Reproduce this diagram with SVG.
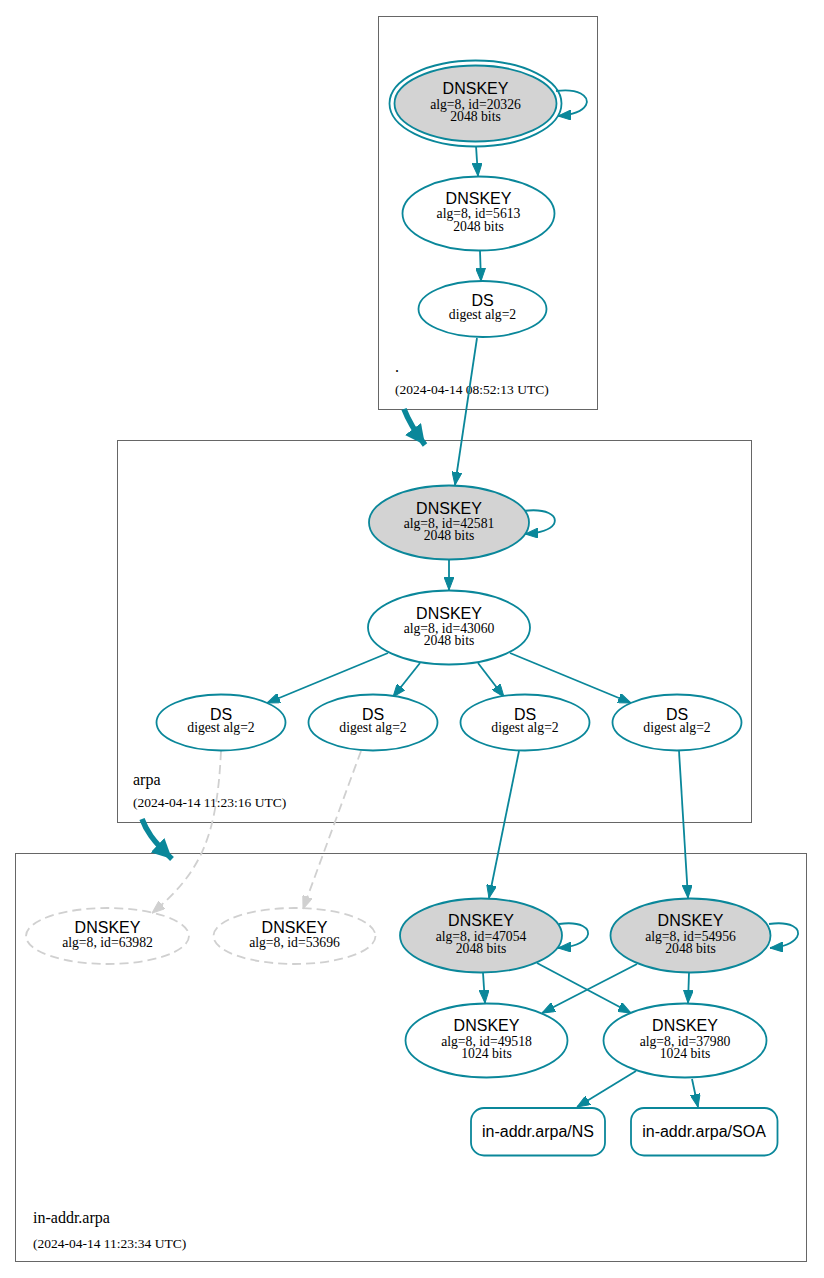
<svg xmlns="http://www.w3.org/2000/svg" width="824" height="1278" viewBox="0 0 824 1278">
<style>
.cl{fill:none;stroke:#666;stroke-width:1}
.n{fill:#fff;stroke:#0a879a;stroke-width:1.8}
.g{fill:#d3d3d3;stroke:#0a879a;stroke-width:1.8}
.d{fill:none;stroke:#d0d0d0;stroke-width:1.8;stroke-dasharray:9,5}
.t{font-family:"Liberation Sans",Arial,sans-serif;font-size:16px;fill:#000;text-anchor:middle}
.s{font-family:"Liberation Serif","Times New Roman",serif;font-size:13.7px;fill:#000;text-anchor:middle}
.lb{font-family:"Liberation Serif","Times New Roman",serif;font-size:16px;fill:#000}
.dt{font-family:"Liberation Serif","Times New Roman",serif;font-size:13.5px;fill:#000}
.e{fill:none;stroke:#0a879a;stroke-width:1.8;marker-end:url(#a)}
.ed{fill:none;stroke:#d0d0d0;stroke-width:1.8;stroke-dasharray:9,5;marker-end:url(#ag)}
.et{fill:none;stroke:#0a879a;stroke-width:5.5;marker-end:url(#at)}
</style>
<defs>
<marker id="a" viewBox="0 0 13 10" refX="13" refY="5" markerWidth="13" markerHeight="10" markerUnits="userSpaceOnUse" orient="auto"><path d="M0,0 L13,5 L0,10 z" fill="#0a879a" stroke="#0a879a" stroke-width="1"/></marker>
<marker id="ag" viewBox="0 0 13 10" refX="13" refY="5" markerWidth="13" markerHeight="10" markerUnits="userSpaceOnUse" orient="auto"><path d="M0,0 L13,5 L0,10 z" fill="#d0d0d0" stroke="#d0d0d0" stroke-width="1"/></marker>
<marker id="at" viewBox="0 0 20 20" refX="20" refY="10" markerWidth="20" markerHeight="20" markerUnits="userSpaceOnUse" orient="auto"><path d="M0,0 L20,10 L0,20 z" fill="#0a879a"/></marker>
</defs>

<g id="cluster-root">
<rect class="cl" x="378.5" y="16.5" width="219" height="393"/>
<text class="lb" x="395" y="372">.</text>
<text class="dt" x="395" y="394">(2024-04-14 08:52:13 UTC)</text>
</g>
<g id="cluster-arpa">
<rect class="cl" x="117.5" y="440.5" width="634" height="382"/>
<text class="lb" x="133" y="785">arpa</text>
<text class="dt" x="133" y="807">(2024-04-14 11:23:16 UTC)</text>
</g>
<g id="cluster-in-addr">
<rect class="cl" x="15.5" y="853.5" width="791" height="408"/>
<text class="lb" x="33" y="1223">in-addr.arpa</text>
<text class="dt" x="33" y="1248">(2024-04-14 11:23:34 UTC)</text>
</g>

<g id="connectors">
<path class="e" d="M556,91 C578,88 590,96 586,105 C582,112 572,115 558,116"/>
<path class="e" d="M476,146 L478,176"/>
<path class="e" d="M480,251 L481,281"/>
<path class="e" d="M477,338 L455,485"/>
<path class="et" d="M404,409 Q410,425 425,445"/>
<path class="e" d="M523,511 C546,508 558,515 554,524 C550,530 540,533 525,534"/>
<path class="e" d="M449,560 L449,590"/>
<path class="e" d="M388,653 L267,703"/>
<path class="e" d="M420,663 L393,697"/>
<path class="e" d="M478,663 L504,697"/>
<path class="e" d="M510,653 L631,703"/>
<path class="ed" d="M221,751 C217,835 202,872 152,913"/>
<path class="ed" d="M361,751 L303,909"/>
<path class="e" d="M519,751 L489,898"/>
<path class="e" d="M679,751 L688,898"/>
<path class="et" d="M142,819 C146,830 152,840 172,859"/>
<path class="e" d="M559,924 C580,921 592,928 587,937 C583,943 573,947 558,948"/>
<path class="e" d="M769,924 C790,921 802,928 797,937 C793,943 783,947 770,948"/>
<path class="e" d="M483,973 L485,1003"/>
<path class="e" d="M537,963 L631,1013"/>
<path class="e" d="M637,964 L542,1013"/>
<path class="e" d="M689,973 L688,1003"/>
<path class="e" d="M636,1071 L577,1107"/>
<path class="e" d="M692,1079 L698,1107"/>
</g>

<g id="dnskey-20326">
<ellipse class="g" cx="475.5" cy="103.5" rx="81" ry="38"/>
<ellipse fill="none" stroke="#0a879a" stroke-width="1.8" cx="475.5" cy="103.5" rx="86" ry="43"/>
<text class="t" x="475.5" y="94">DNSKEY</text>
<text class="s" x="475.5" y="108.5">alg=8, id=20326</text>
<text class="s" x="475.5" y="121">2048 bits</text>
</g>
<g id="dnskey-5613">
<ellipse class="n" cx="478.5" cy="213.5" rx="76" ry="37"/>
<text class="t" x="478.5" y="204">DNSKEY</text>
<text class="s" x="478.5" y="218">alg=8, id=5613</text>
<text class="s" x="478.5" y="230.5">2048 bits</text>
</g>
<g id="ds-root">
<ellipse class="n" cx="482.5" cy="309" rx="64" ry="28"/>
<text class="t" x="482.5" y="306">DS</text>
<text class="s" x="482.5" y="318.5">digest alg=2</text>
</g>

<g id="dnskey-42581">
<ellipse class="g" cx="449" cy="522.5" rx="80" ry="37"/>
<text class="t" x="449" y="513.5">DNSKEY</text>
<text class="s" x="449" y="527.5">alg=8, id=42581</text>
<text class="s" x="449" y="540">2048 bits</text>
</g>
<g id="dnskey-43060">
<ellipse class="n" cx="449" cy="627.5" rx="81" ry="37"/>
<text class="t" x="449" y="618.5">DNSKEY</text>
<text class="s" x="449" y="632.5">alg=8, id=43060</text>
<text class="s" x="449" y="645">2048 bits</text>
</g>
<g id="ds-arpa-1">
<ellipse class="n" cx="221" cy="722.5" rx="64.5" ry="28"/>
<text class="t" x="221" y="719.5">DS</text>
<text class="s" x="221" y="732">digest alg=2</text>
</g>
<g id="ds-arpa-2">
<ellipse class="n" cx="373" cy="722.5" rx="64.5" ry="28"/>
<text class="t" x="373" y="719.5">DS</text>
<text class="s" x="373" y="732">digest alg=2</text>
</g>
<g id="ds-arpa-3">
<ellipse class="n" cx="525" cy="722.5" rx="64.5" ry="28"/>
<text class="t" x="525" y="719.5">DS</text>
<text class="s" x="525" y="732">digest alg=2</text>
</g>
<g id="ds-arpa-4">
<ellipse class="n" cx="677" cy="722.5" rx="64.5" ry="28"/>
<text class="t" x="677" y="719.5">DS</text>
<text class="s" x="677" y="732">digest alg=2</text>
</g>

<g id="dnskey-63982">
<ellipse class="d" cx="107.5" cy="936" rx="81.5" ry="28"/>
<text class="t" x="107.5" y="933">DNSKEY</text>
<text class="s" x="107.5" y="946.5">alg=8, id=63982</text>
</g>
<g id="dnskey-53696">
<ellipse class="d" cx="294.5" cy="936" rx="81" ry="28"/>
<text class="t" x="294.5" y="933">DNSKEY</text>
<text class="s" x="294.5" y="946.5">alg=8, id=53696</text>
</g>
<g id="dnskey-47054">
<ellipse class="g" cx="481" cy="935.5" rx="81" ry="37"/>
<text class="t" x="481" y="926">DNSKEY</text>
<text class="s" x="481" y="940.5">alg=8, id=47054</text>
<text class="s" x="481" y="953">2048 bits</text>
</g>
<g id="dnskey-54956">
<ellipse class="g" cx="690.5" cy="935.5" rx="80" ry="37"/>
<text class="t" x="690.5" y="926">DNSKEY</text>
<text class="s" x="690.5" y="940.5">alg=8, id=54956</text>
<text class="s" x="690.5" y="953">2048 bits</text>
</g>
<g id="dnskey-49518">
<ellipse class="n" cx="486.5" cy="1040.5" rx="81" ry="37"/>
<text class="t" x="486.5" y="1031">DNSKEY</text>
<text class="s" x="486.5" y="1045.5">alg=8, id=49518</text>
<text class="s" x="486.5" y="1058">1024 bits</text>
</g>
<g id="dnskey-37980">
<ellipse class="n" cx="685" cy="1040.5" rx="81.5" ry="37"/>
<text class="t" x="685" y="1031">DNSKEY</text>
<text class="s" x="685" y="1045.5">alg=8, id=37980</text>
<text class="s" x="685" y="1058">1024 bits</text>
</g>
<g id="rr-ns">
<rect class="n" x="471" y="1108" width="134" height="47.5" rx="13"/>
<text class="t" x="538" y="1137">in-addr.arpa/NS</text>
</g>
<g id="rr-soa">
<rect class="n" x="631" y="1108" width="146.5" height="47.5" rx="13"/>
<text class="t" x="704" y="1137">in-addr.arpa/SOA</text>
</g>
</svg>
